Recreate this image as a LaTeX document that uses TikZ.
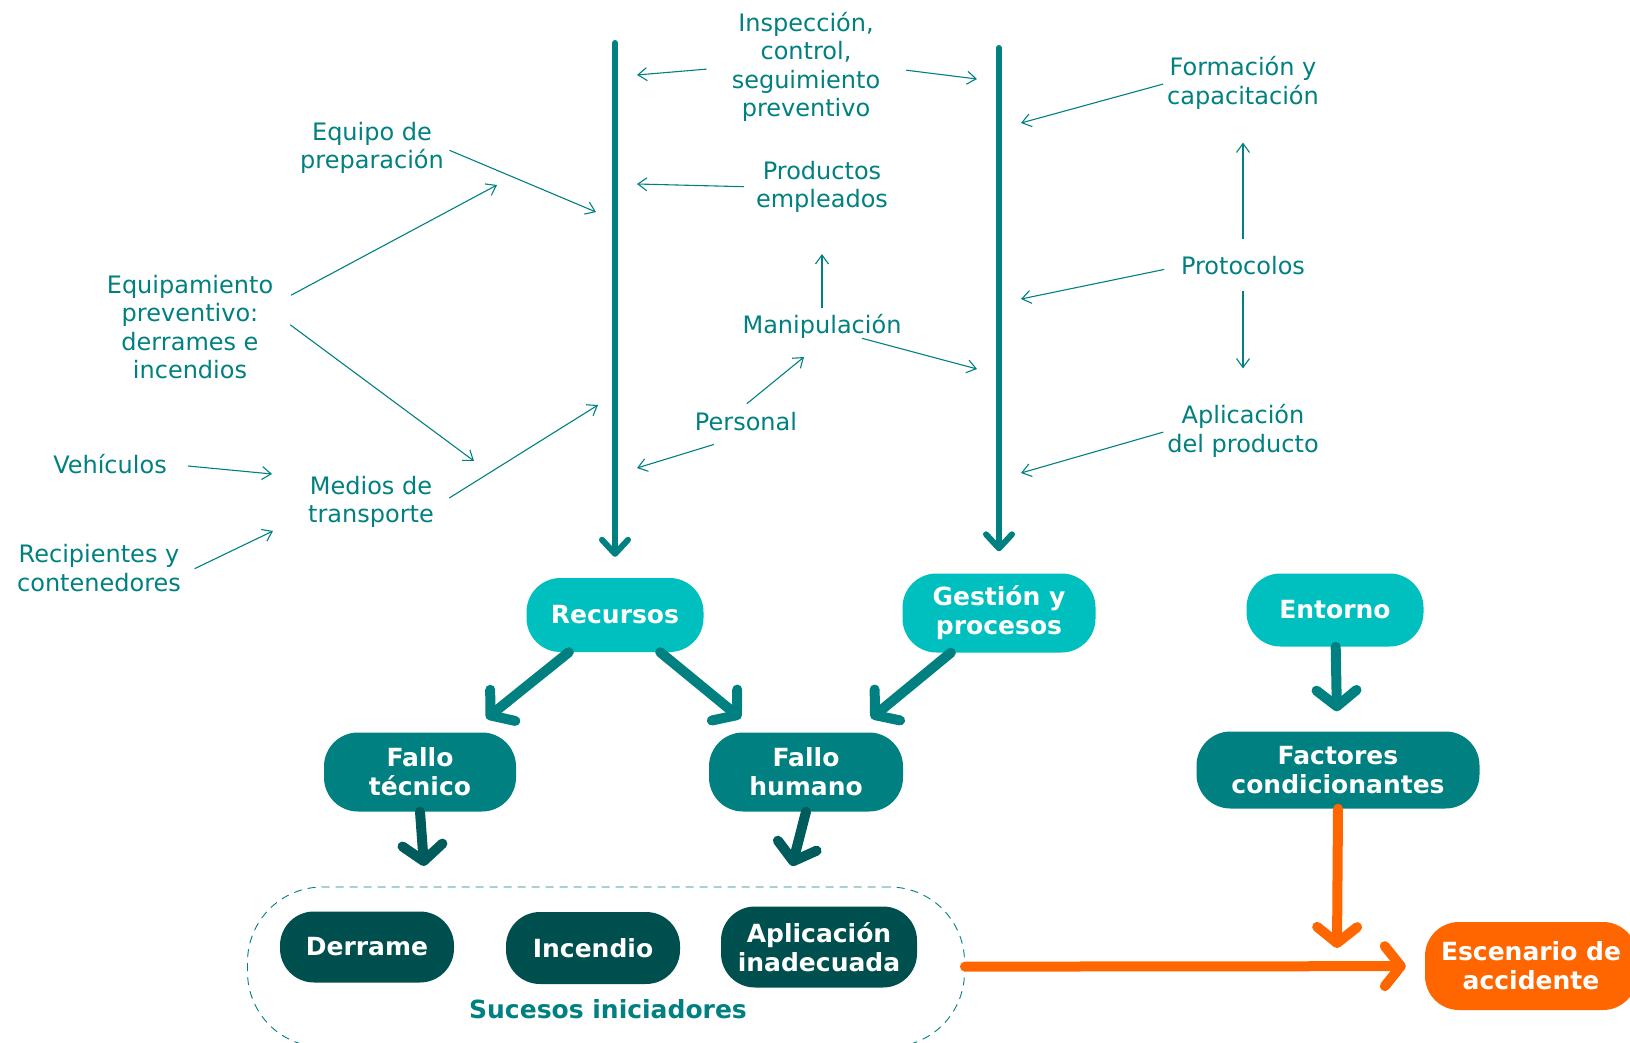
\documentclass[tikz,border=0pt]{standalone}
\usepackage{fontspec}
\setmainfont{DejaVu Sans}
\usetikzlibrary{arrows.meta, positioning}
\definecolor{tealtext}{HTML}{008080}
\definecolor{cyanbox}{HTML}{00BFBF}
\definecolor{tealbox}{HTML}{008080}
\definecolor{darkbox}{HTML}{004F4F}
\definecolor{darkarrow}{HTML}{005C5C}
\definecolor{hot}{HTML}{FF6600}
\tikzset{
	link/.style={draw=tealtext, line width=1.1pt, -{Straight Barb[length=9pt,width=13pt]}},
	trunk/.style={draw=tealtext, line width=6pt, line cap=round, -{Straight Barb[round,length=14pt,width=26pt]}},
	flow/.style={line width=10pt, line cap=round, -{Straight Barb[round,length=16pt,width=40pt]}},
	label nodes/.style={
		text=tealtext,
		align=center,
		inner sep=0pt,
		font=\fontsize{24}{28.5}\selectfont
	},
	box nodes/.style={
		rectangle,
		rounded corners=34pt,
		text=white,
		align=center,
		inner sep=0pt,
		minimum height=76pt,
		font=\bfseries\fontsize{25}{29}\selectfont
	},
	cause nodes/.style={box nodes, fill=cyanbox},
	failure nodes/.style={box nodes, fill=tealbox},
	event nodes/.style={box nodes, fill=darkbox}
}

\begin{document}
\begin{tikzpicture}[x=1pt, y=-1pt]
	\useasboundingbox (0,0) rectangle (1630,1043);

	% labels round the two trunks
	\node[label nodes] (insp) at (806,67) {Inspección,\\control,\\seguimiento\\preventivo};
	\node[label nodes] (prod) at (822,187) {Productos\\empleados};
	\node[label nodes] (manip) at (822,326) {Manipulación};
	\node[label nodes] (pers) at (746,422) {Personal};
	\node[label nodes] (equipo) at (372,148) {Equipo de\\preparación};
	\node[label nodes] (equipam) at (190,327) {Equipamiento\\preventivo:\\derrames e\\incendios};
	\node[label nodes] (vehic) at (110,464) {Vehículos};
	\node[label nodes] (medios) at (371,502) {Medios de\\transporte};
	\node[label nodes] (recip) at (99,568) {Recipientes y\\contenedores};
	\node[label nodes] (form) at (1243,83) {Formación y\\capacitación};
	\node[label nodes] (proto) at (1243,266) {Protocolos};
	\node[label nodes] (aplic) at (1243,431) {Aplicación\\del producto};

	% boxes
	\node[cause nodes, minimum width=177pt, minimum height=74pt] (rec) at (615,615) {Recursos};
	\node[cause nodes, minimum width=193pt, minimum height=79pt] (ges) at (999,613) {Gestión y\\procesos};
	\node[cause nodes, minimum width=177pt, minimum height=73pt] (ent) at (1335,610) {Entorno};
	\node[failure nodes, minimum width=192pt, minimum height=79pt] (ft) at (420,772) {Fallo\\técnico};
	\node[failure nodes, minimum width=194pt, minimum height=79pt] (fh) at (806,772) {Fallo\\humano};
	\node[failure nodes, minimum width=283pt, minimum height=77pt] (fac) at (1338,770) {Factores\\condicionantes};
	\node[draw=tealtext, line width=0.9pt, dash pattern=on 8pt off 6pt, rounded corners=75pt,
		minimum width=717pt, minimum height=160pt] (suc) at (606,967) {};
	\node[event nodes, minimum width=174pt, minimum height=71pt] (der) at (367,947) {Derrame};
	\node[event nodes, minimum width=174pt, minimum height=72pt] (inc) at (593,948) {Incendio};
	\node[event nodes, minimum width=196pt, minimum height=81pt] (apl) at (819,947) {Aplicación\\inadecuada};
	\node[text=tealtext, inner sep=0pt, font=\bfseries\fontsize{25}{29}\selectfont] (suclbl) at (608,1009) {Sucesos iniciadores};
	\node[box nodes, fill=hot, minimum width=212pt, minimum height=88pt] (esc) at (1531,966) {Escenario de\\accidente};

	% free ends
	\coordinate (t1top) at (615,43);
	\coordinate (t2top) at (999,48);
	\coordinate (l1) at (637,75);
	\coordinate (l2) at (637,184);
	\coordinate (l3) at (596,212);
	\coordinate (l4) at (598,405);
	\coordinate (l5) at (637,468);
	\coordinate (r1) at (977,79);
	\coordinate (r2) at (977,369);
	\coordinate (r3) at (1021,123);
	\coordinate (r4) at (1021,299);
	\coordinate (r5) at (1021,473);
	\coordinate (e1) at (497,185);
	\coordinate (e2) at (474,461);
	\coordinate (m1) at (804,357);
	\coordinate (v1) at (272,474);
	\coordinate (v2) at (273,531);
	\coordinate (ftend) at (424,866);
	\coordinate (fhend) at (792,866);
	\coordinate (facend) at (1337,948);

	\draw[trunk, shorten >=21pt] (t1top) -- (rec);
	\draw[trunk, shorten >=22pt] (t2top) -- (ges);

	\draw[link, shorten <=25pt] (insp.west) -- (l1);
	\draw[link, shorten <=26pt] (insp.east) -- (r1);
	\draw[link, shorten <=12pt] (prod.west) -- (l2);
	\draw[link, shorten <=6pt, shorten >=41pt] (manip.north) -- (prod.south);
	\draw[link] ([xshift=40pt]manip.south) -- (r2);
	\draw[link, shorten <=14pt] ([xshift=-10pt]pers.north) -- (m1);
	\draw[link] ([shift={(19,13)}]pers.south west) -- (l5);
	\draw[link, shorten <=6pt] (equipo.east) -- (l3);
	\draw[link, shorten <=20pt] (equipam.15) -- (e1);
	\draw[link, shorten <=21pt] (equipam.10) -- (e2);
	\draw[link, shorten <=21pt] (vehic.east) -- (v1);
	\draw[link, shorten <=18pt] (medios.-5) -- (l4);
	\draw[link, shorten <=15pt] (recip.-5) -- (v2);
	\draw[link, shorten <=4pt] (form.west) -- (r3);
	\draw[link, shorten <=17pt] (proto.west) -- (r4);
	\draw[link, shorten <=18pt, shorten >=33pt] (proto.north) -- (form.south);
	\draw[link, shorten <=16pt, shorten >=36pt] (proto.south) -- (aplic.north);
	\draw[link, shorten <=4pt] (aplic.west) -- (r5);

	\draw[flow, tealbox, shorten >=22pt] (rec) -- (ft);
	\draw[flow, tealbox, shorten >=22pt] (rec) -- (fh);
	\draw[flow, tealbox, shorten >=22pt] (ges) -- (fh);
	\draw[flow, tealbox, shorten >=20pt] (ent) -- (fac);
	\draw[flow, darkarrow] (ft.south) -- (ftend);
	\draw[flow, darkarrow] (fh.south) -- (fhend);
	\draw[flow, hot] (fac.south) -- (facend);
	\draw[flow, hot, shorten >=19pt] (suc) -- (esc);
\end{tikzpicture}
\end{document}
